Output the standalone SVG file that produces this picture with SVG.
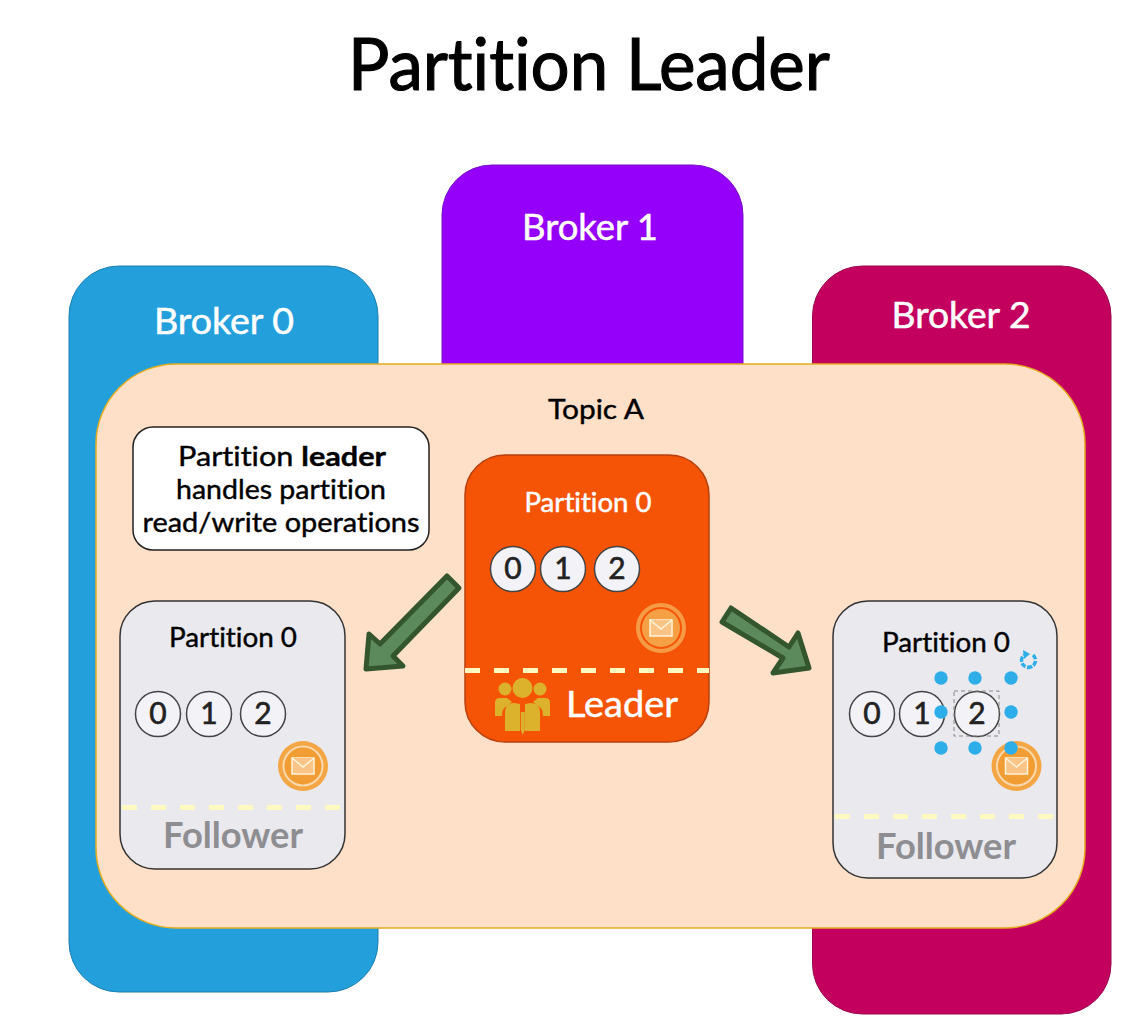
<svg xmlns="http://www.w3.org/2000/svg" width="1144" height="1029" viewBox="0 0 1144 1029">
<style>
text{font-family:"Lato","Liberation Sans",sans-serif;text-anchor:middle;font-variant-ligatures:none}
.w{fill:#fff;stroke:#fff;stroke-width:.5}.k{fill:#000;stroke:#000;stroke-width:.4}
.num{font-size:30px;fill:#222;stroke:#222;stroke-width:.6}
.part{font-size:27px}
.c{fill:#f3f3f7;stroke:#444;stroke-width:1.5}
.card{fill:#e9e9ee;stroke:#333;stroke-width:1.5}
.dash{stroke:#fdf9bf;stroke-width:5;stroke-dasharray:15 14;fill:none}
.foll{font-size:36px;fill:#8e8e92;font-weight:700}
.dot{fill:#2eaee8}
.arrow{fill:#5d8a5c;stroke:#34562f;stroke-width:5;stroke-linejoin:round}
.halo{fill:#f4a544}
.ring{fill:#f29d33;stroke:#f8d9ae;stroke-width:2}
.halo2{fill:none;stroke:#f59a45;stroke-width:4}
.core2{fill:#f6a046}
.env{fill:#f9c485;stroke:#fff3dc;stroke-width:1.5}
</style>
<defs>
<g id="mail">
<circle class="halo" r="25"/><circle class="ring" r="19.500"/>
<rect class="env" x="-11" y="-8" width="22" height="16"/><path class="env" d="M-11-8L0 1 11-8"/>
</g>
<g id="mailLead">
<circle class="halo2" r="23"/><circle class="core2" r="19"/>
<rect class="env" x="-11" y="-8" width="22" height="16"/><path class="env" d="M-11-8L0 1 11-8"/>
</g>
</defs>
<rect width="1144" height="1029" fill="#fff"/>
<text x="589" y="90" font-size="72" textLength="482" lengthAdjust="spacingAndGlyphs" class="k" style="stroke-width:1.200">Partition Leader</text>
<g id="broker0"><rect x="69" y="266" width="309" height="726" rx="50" fill="#23a0dc" stroke="#1b7fb0"/><text x="224" y="334" font-size="36" class="w" textLength="140" lengthAdjust="spacingAndGlyphs">Broker 0</text></g>
<g id="broker1"><rect x="442" y="165" width="301" height="260" rx="50" fill="#9500fb" stroke="#7a10c8"/><text x="590" y="240" font-size="36" class="w" textLength="136" lengthAdjust="spacingAndGlyphs">Broker 1</text></g>
<g id="broker2"><rect x="812.500" y="266" width="298.500" height="748" rx="50" fill="#c4005e" stroke="#9c0a50"/><text x="961" y="328" font-size="36" class="w" textLength="139" lengthAdjust="spacingAndGlyphs">Broker 2</text></g>
<g id="topic"><rect x="96" y="364" width="989" height="564" rx="80" fill="#fee0c8" stroke="#e3ad1f" stroke-width="1.500"/><text x="596" y="419" font-size="27" class="k" textLength="96" lengthAdjust="spacingAndGlyphs">Topic A</text></g>
<g id="note"><rect x="133" y="427" width="296" height="123" rx="20" fill="#fff" stroke="#222" stroke-width="1.500"/>
<text x="282" y="466" font-size="27" class="k" textLength="208" lengthAdjust="spacingAndGlyphs">Partition <tspan font-weight="700">leader</tspan></text>
<text x="281" y="499" font-size="27" class="k" textLength="210" lengthAdjust="spacingAndGlyphs">handles partition</text>
<text x="281" y="532" font-size="27" class="k" textLength="277" lengthAdjust="spacingAndGlyphs">read/write operations</text></g>
<g id="leader"><rect x="465" y="455" width="244" height="287" rx="40" fill="#f55306" stroke="#b8400f" stroke-width="1.500"/>
<text x="588" y="512" class="part w" textLength="127" lengthAdjust="spacingAndGlyphs">Partition 0</text>
<circle class="c" cx="513" cy="569" r="22.500"/><text x="513" y="579" class="num">0</text>
<circle class="c" cx="563" cy="569" r="22.500"/><text x="563" y="579" class="num">1</text>
<circle class="c" cx="617" cy="569" r="22.500"/><text x="617" y="579" class="num">2</text>
<use href="#mailLead" x="661" y="628"/>
<line class="dash" x1="465" y1="670.500" x2="709" y2="670.500"/>
<g fill="#dcb22c"><circle cx="522.500" cy="688" r="10"/><circle cx="505" cy="689" r="6.500"/><circle cx="540" cy="689" r="6.500"/>
<path d="M495 716V703q0-5 5-5h7l5 4-5 4q-5 2-5 10z"/><path d="M550 716V703q0-5-5-5h-7l-5 4 5 4q5 2 5 10z"/>
<path d="M505 731V713q0-10 9-10l6 1v27zM540 731V713q0-10-9-10l-6 1v27zM520.800 712h4v18l-2 5-2-5z"/></g>
<text x="622" y="717" font-size="36" class="w" textLength="112" lengthAdjust="spacingAndGlyphs">Leader</text></g>
<g id="followerLeft"><rect class="card" x="120" y="601" width="225" height="268" rx="35"/>
<text x="233" y="647" class="part k" textLength="128" lengthAdjust="spacingAndGlyphs">Partition 0</text>
<circle class="c" cx="158" cy="714" r="22.500"/><text x="158" y="724" class="num">0</text>
<circle class="c" cx="209" cy="714" r="22.500"/><text x="209" y="724" class="num">1</text>
<circle class="c" cx="263" cy="714" r="22.500"/><text x="263" y="724" class="num">2</text>
<use href="#mail" x="303" y="766"/>
<line class="dash" x1="122" y1="807.500" x2="343" y2="807.500"/>
<text x="233" y="848" class="foll" textLength="140" lengthAdjust="spacingAndGlyphs">Follower</text></g>
<g id="followerRight"><rect class="card" x="833" y="601" width="224" height="277" rx="35"/>
<text x="946" y="652" class="part k" textLength="128" lengthAdjust="spacingAndGlyphs">Partition 0</text>
<circle class="c" cx="872" cy="714" r="22.500"/><text x="872" y="724" class="num">0</text>
<circle class="c" cx="922" cy="714" r="22.500"/><text x="922" y="724" class="num">1</text>
<circle class="c" cx="977" cy="714" r="22.500"/><text x="977" y="724" class="num">2</text>
<rect x="954" y="691" width="45" height="45" fill="none" stroke="#888" stroke-dasharray="4 3"/>
<use href="#mail" x="1016.500" y="766"/>
<line class="dash" x1="835" y1="816.500" x2="1055" y2="816.500"/>
<text x="946" y="859" class="foll" textLength="140" lengthAdjust="spacingAndGlyphs">Follower</text>
<circle class="dot" cx="941" cy="678" r="6.700"/><circle class="dot" cx="975" cy="678" r="6.700"/><circle class="dot" cx="1011" cy="678" r="6.700"/>
<circle class="dot" cx="941" cy="712" r="6.700"/><circle class="dot" cx="1011" cy="712" r="6.700"/>
<circle class="dot" cx="941" cy="748" r="6.700"/><circle class="dot" cx="975" cy="748" r="6.700"/><circle class="dot" cx="1011" cy="748" r="6.700"/>
<path d="M1033 655a7 7 0 1 1-9 0" fill="none" stroke="#2eaee8" stroke-width="3.500" stroke-dasharray="5 1.500"/><path d="M1023 650l7 4-6 5z" fill="#2eaee8"/></g>
<g id="connectors">
<path class="arrow" d="M447 576L459 588 393 656 403 666 366 669 369 634 380 644Z"/>
<path class="arrow" d="M722 622L731 608 789 647 798 633 809 668 773 673 783 658Z"/>
</g>
</svg>
